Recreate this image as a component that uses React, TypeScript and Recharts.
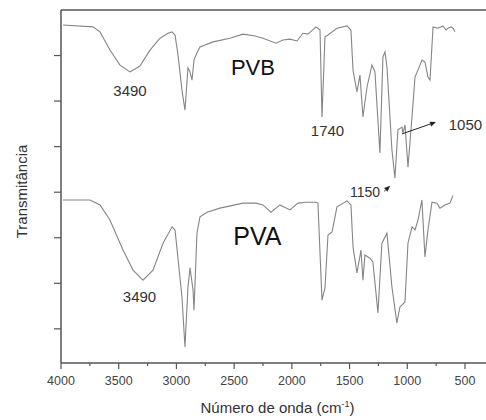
import { LineChart, Line, XAxis, YAxis, ReferenceDot, ReferenceLine } from "recharts";

// PVB spectrum (upper trace), wavenumber in cm-1 and offset transmittance
const pvbWavenumber = [
  3983, 3723, 3662, 3576, 3489, 3402, 3316, 3229, 3142, 3073, 3038, 3012, 2986, 2952, 2926, 2900,
  2882, 2865, 2848, 2822, 2796, 2683, 2536, 2423, 2319, 2250, 2137, 2077, 2016, 1955, 1904, 1860,
  1791, 1774, 1756, 1739, 1713, 1687, 1609, 1522, 1488, 1470, 1436, 1410, 1384, 1349, 1306, 1280,
  1237, 1211, 1193, 1176, 1133, 1107, 1081, 1046, 1037, 1020, 994, 959, 933, 907, 873, 847, 821,
  803, 777, 734, 691, 665, 647, 621, 604, 587,
];
const pvbTransmittance = [
  6.67, 6.63, 6.52, 6.12, 5.79, 5.64, 5.77, 6.12, 6.38, 6.49, 6.52, 6.45, 6.01, 5.24, 4.8, 5.73,
  5.64, 5.46, 5.9, 6.06, 6.19, 6.3, 6.38, 6.47, 6.43, 6.38, 6.27, 6.34, 6.36, 6.32, 6.49, 6.47,
  6.63, 6.6, 6.56, 4.65, 6.41, 6.45, 6.6, 6.65, 6.56, 5.68, 5.2, 5.57, 4.65, 5.31, 5.79, 5.64,
  3.86, 5.97, 6.08, 5.75, 3.93, 3.31, 4.37, 4.43, 4.3, 4.48, 3.55, 4.65, 5.53, 5.68, 5.9, 5.86, 5.53,
  5.46, 6.63, 6.6, 6.65, 6.56, 6.6, 6.63, 6.6, 6.52,
];

// PVA spectrum (lower trace)
const pvaWavenumber = [
  3983, 3749, 3662, 3576, 3463, 3376, 3290, 3203, 3116, 3038, 3012, 2952, 2926, 2900, 2882, 2856,
  2848, 2822, 2796, 2735, 2623, 2423, 2311, 2250, 2181, 2103, 2016, 1947, 1878, 1791, 1774, 1739,
  1713, 1687, 1652, 1609, 1522, 1488, 1470, 1436, 1401, 1384, 1367, 1324, 1298, 1254, 1220, 1176,
  1133, 1090, 1064, 1020, 994, 959, 933, 907, 873, 847, 821, 786, 743, 717, 674, 630, 604,
];
const pvaTransmittance = [
  2.83, 2.83, 2.72, 2.39, 1.73, 1.29, 1.07, 1.29, 1.88, 2.24, 2.17, 0.7, -0.4, 0.92, 1.34, 0.85,
  0.41, 2.1, 2.46, 2.56, 2.65, 2.76, 2.76, 2.72, 2.56, 2.72, 2.61, 2.76, 2.78, 2.78, 2.76, 0.63,
  0.9, 2.06, 2.13, 2.68, 2.81, 2.72, 1.8, 1.23, 1.73, 1.07, 1.62, 1.55, 1.47, 0.35, 1.88, 2.1,
  0.92, 0.13, 0.48, 0.59, 1.88, 2.24, 2.17, 2.39, 2.83, 1.58, 2.17, 2.78, 2.76, 2.65, 2.72, 2.76, 2.93,
];

const xTicks = [
  4000, 3750, 3500, 3250, 3000, 2750, 2500, 2250, 2000, 1750, 1500, 1250, 1000, 750, 500,
];
const yTicks = [0, 1, 2, 3, 4, 5, 6];

// peak annotations: text, wavenumber, transmittance, font size
const noteText = ["PVB", "PVA", "3490", "3490", "1740", "1050", "1150"];
const noteWave = [2337, 2298, 3402, 3320, 1691, 496, 1366];
const noteTrans = [5.74, 2.03, 5.24, 0.72, 4.36, 4.48, 3.0];
const noteSize = [22, 25, 15, 15, 15, 15, 14];

// arrows next to the 1050 and 1150 labels
const arrowFrom = [
  { x: 1046, y: 4.28 },
  { x: 1200, y: 3.02 },
];
const arrowTo = [
  { x: 751, y: 4.54 },
  { x: 1148, y: 3.14 },
];

const pvbData = pvbWavenumber.map((w, i) => ({ w, t: pvbTransmittance[i] }));
const pvaData = pvaWavenumber.map((w, i) => ({ w, t: pvaTransmittance[i] }));

const AXIS = "#555";
const TEXT = "#333";
const LINE = "#858585";
const FONT = "'Liberation Sans', Arial, sans-serif";

const XTick = (props: any) => {
  const { x, y, payload } = props;
  const major = payload.value % 500 === 0;
  return (
    <g>
      <line x1={x} x2={x} y1={y} y2={y + (major ? 6 : 3)} stroke={AXIS} strokeWidth={1.2} />
      {major && (
        <text x={x} y={y + 22} textAnchor="middle" fontSize={12.5} fill="#444" fontFamily={FONT}>
          {payload.value}
        </text>
      )}
    </g>
  );
};

const YTick = (props: any) => {
  const { x, y } = props;
  return <line x1={x - 7} x2={x} y1={y} y2={y} stroke={AXIS} strokeWidth={1.2} />;
};

const XTitle = (props: any) => {
  const { viewBox } = props;
  const cx = viewBox.x + viewBox.width / 2 + 4;
  return (
    <text x={cx} y={413} textAnchor="middle" fontSize={15} fill={TEXT} fontFamily={FONT}>
      Número de onda (cm
      <tspan dy={-6} fontSize={9}>-1</tspan>
      <tspan dy={6}>)</tspan>
    </text>
  );
};

const YTitle = (props: any) => {
  const { viewBox } = props;
  const cy = viewBox.y + viewBox.height / 2 + 5;
  return (
    <text
      x={21}
      y={cy}
      transform={`rotate(-90 21 ${cy})`}
      textAnchor="middle"
      dominantBaseline="central"
      fontSize={15}
      fill={TEXT}
      fontFamily={FONT}
    >
      Transmitância
    </text>
  );
};

const Arrow = (props: any) => {
  const { x1, y1, x2, y2 } = props;
  const a = Math.atan2(y2 - y1, x2 - x1);
  const len = 6;
  const half = 2.5;
  const bx = x2 - len * Math.cos(a);
  const by = y2 - len * Math.sin(a);
  const px = -Math.sin(a) * half;
  const py = Math.cos(a) * half;
  return (
    <g>
      <line x1={x1} y1={y1} x2={bx} y2={by} stroke="#222" strokeWidth={1} />
      <polygon points={`${x2},${y2} ${bx + px},${by + py} ${bx - px},${by - py}`} fill="#222" />
    </g>
  );
};

export default function App() {
  return (
    <div style={{ position: "absolute", left: 0, top: 0, width: 486, height: 420, background: "#fff" }}>
      <LineChart width={486} height={420} margin={{ top: 10, right: 0, bottom: 0, left: 0 }}>
        <XAxis
          dataKey="w"
          type="number"
          domain={[318, 4000]}
          reversed
          allowDataOverflow
          ticks={xTicks}
          interval={0}
          height={57}
          tickSize={0}
          tickMargin={0}
          tickLine={false}
          tick={<XTick />}
          axisLine={{ stroke: AXIS, strokeWidth: 1.5 }}
          label={{ value: "Número de onda", content: <XTitle /> }}
        />
        <YAxis
          type="number"
          domain={[-0.75, 7]}
          allowDataOverflow
          ticks={yTicks}
          interval={0}
          width={61}
          tickSize={0}
          tickMargin={0}
          tickLine={false}
          tick={<YTick />}
          axisLine={{ stroke: AXIS, strokeWidth: 1.5 }}
          label={{ value: "Transmitância", content: <YTitle /> }}
        />
        {/* top frame line */}
        <ReferenceLine y={7} stroke={AXIS} strokeWidth={1.5} ifOverflow="visible" />
        <Line
          data={pvbData}
          dataKey="t"
          type="linear"
          stroke={LINE}
          strokeWidth={1.1}
          dot={false}
          isAnimationActive={false}
        />
        <Line
          data={pvaData}
          dataKey="t"
          type="linear"
          stroke={LINE}
          strokeWidth={1.1}
          dot={false}
          isAnimationActive={false}
        />
        {noteText.map((t, i) => (
          <ReferenceDot
            key={i}
            x={noteWave[i]}
            y={noteTrans[i]}
            r={0}
            ifOverflow="visible"
            shape={(p: any) => (
              <text
                x={p.cx}
                y={p.cy}
                textAnchor="middle"
                dominantBaseline="central"
                fontSize={noteSize[i]}
                fill={i < 2 ? "#111" : TEXT}
                fontFamily={FONT}
              >
                {t}
              </text>
            )}
          />
        ))}
        {arrowFrom.map((f, i) => (
          <ReferenceLine
            key={"a" + i}
            segment={[f, arrowTo[i]]}
            ifOverflow="visible"
            shape={(p: any) => <Arrow {...p} />}
          />
        ))}
      </LineChart>
    </div>
  );
}
